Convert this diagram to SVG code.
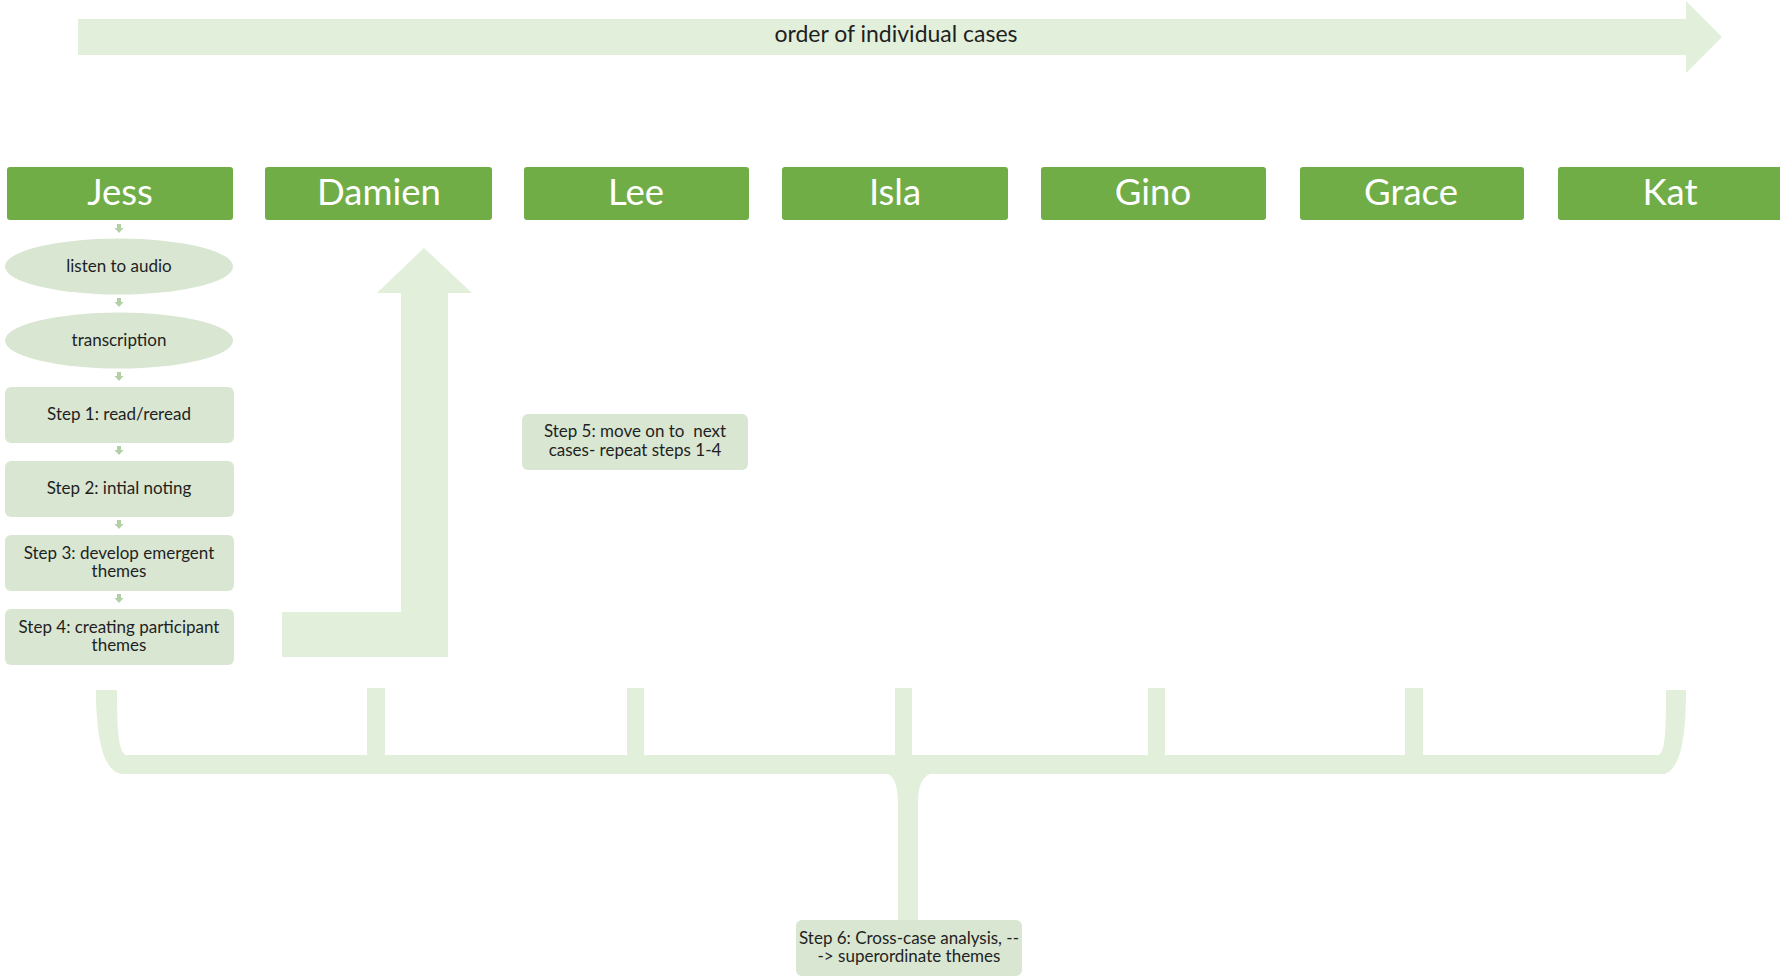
<svg xmlns="http://www.w3.org/2000/svg" width="1780" height="976" viewBox="0 0 1780 976">
  <style>
    .name rect { fill: #70ad47; }
    .name text { font-family: Lato, "Noto Sans", "Liberation Sans", sans-serif; font-size: 36.5px; fill: #ffffff; text-anchor: middle; }
    .step rect, .step ellipse { fill: #d9e6d2; }
    .step text { font-family: Lato, "Noto Sans", "Liberation Sans", sans-serif; font-size: 17px; fill: #1f1f1f; text-anchor: middle; }
    .band { fill: #e2efda; }
    .tiny { fill: #b3cfa4; }
    .title { font-family: Lato, "Noto Sans", "Liberation Sans", sans-serif; font-size: 23px; fill: #1f1f1f; text-anchor: middle; }
  </style>
  <defs>
    <!-- small downward arrow between the stacked steps -->
    <path id="down" d="M -2 0 L 2 0 L 2 4 L 4.5 4 L 0 9 L -4.5 4 L -2 4 Z"/>
  </defs>
  <rect width="1780" height="976" fill="#ffffff"/>

  <!-- timeline arrow across the top -->
  <g id="timeline">
    <path class="band" d="M 78 19 L 1686 19 L 1686 1 L 1722 37 L 1686 73 L 1686 55 L 78 55 Z"/>
    <text class="title" x="896" y="42">order of individual cases</text>
  </g>

  <!-- connectors -->
  <g id="connectors">
    <!-- L-shaped return arrow from step 4 up to the next case -->
    <path class="band" d="M 282 612 L 401 612 L 401 293 L 377 293 L 424 248 L 472 293 L 448 293 L 448 657 L 282 657 Z"/>
    <!-- stems from each case into the brace -->
    <rect class="band" x="367" y="688" width="18" height="68"/>
    <rect class="band" x="627" y="688" width="17" height="68"/>
    <rect class="band" x="895" y="688" width="17" height="68"/>
    <rect class="band" x="1148" y="688" width="17" height="68"/>
    <rect class="band" x="1405" y="688" width="18" height="68"/>
    <!-- brace gathering all cases into step 6 -->
    <path class="band" d="M 96 690 L 117 690 C 117 735 119 752 126 755 L 1659 755 C 1665 750 1666 735 1666 690 L 1686 690 C 1686 740 1680 770 1664 774 L 930 774 C 920 778 918 790 918 805 L 918 921 L 898 921 L 898 805 C 898 790 896 778 888 774 L 122 774 C 104 772 96 740 96 690 Z"/>
    <!-- small arrows in the Jess column -->
    <use class="tiny" href="#down" x="119" y="224"/>
    <use class="tiny" href="#down" x="119" y="298"/>
    <use class="tiny" href="#down" x="119" y="372"/>
    <use class="tiny" href="#down" x="119" y="446"/>
    <use class="tiny" href="#down" x="119" y="520"/>
    <use class="tiny" href="#down" x="119" y="594"/>
  </g>

  <!-- case headers -->
  <g id="jess" class="name"><rect x="7" y="167" width="226" height="53" rx="3"/><text x="120" y="205">Jess</text></g>
  <g id="damien" class="name"><rect x="265" y="167" width="227" height="53" rx="3"/><text x="379" y="205">Damien</text></g>
  <g id="lee" class="name"><rect x="524" y="167" width="225" height="53" rx="3"/><text x="636" y="205">Lee</text></g>
  <g id="isla" class="name"><rect x="782" y="167" width="226" height="53" rx="3"/><text x="895" y="205">Isla</text></g>
  <g id="gino" class="name"><rect x="1041" y="167" width="225" height="53" rx="3"/><text x="1153" y="205">Gino</text></g>
  <g id="grace" class="name"><rect x="1300" y="167" width="224" height="53" rx="3"/><text x="1411" y="205">Grace</text></g>
  <g id="kat" class="name"><rect x="1558" y="167" width="230" height="53" rx="3"/><text x="1670" y="205">Kat</text></g>

  <!-- per-case steps -->
  <g id="listen" class="step"><ellipse cx="119" cy="266.5" rx="114" ry="28"/><text x="119" y="272">listen to audio</text></g>
  <g id="transcription" class="step"><ellipse cx="119" cy="340.5" rx="114" ry="28"/><text x="119" y="346">transcription</text></g>
  <g id="step1" class="step"><rect x="5" y="387" width="229" height="56" rx="6"/><text x="119" y="420">Step 1: read/reread</text></g>
  <g id="step2" class="step"><rect x="5" y="461" width="229" height="56" rx="6"/><text x="119" y="494">Step 2: intial noting</text></g>
  <g id="step3" class="step"><rect x="5" y="535" width="229" height="56" rx="6"/><text x="119" y="558.5">Step 3: develop emergent</text><text x="119" y="577">themes</text></g>
  <g id="step4" class="step"><rect x="5" y="609" width="229" height="56" rx="6"/><text x="119" y="632.5">Step 4: creating participant</text><text x="119" y="651">themes</text></g>

  <g id="step5" class="step"><rect x="522" y="414" width="226" height="56" rx="6"/><text x="635" y="437" xml:space="preserve">Step 5: move on to  next</text><text x="635" y="455.5">cases- repeat steps 1-4</text></g>

  <g id="step6" class="step"><rect x="796" y="920" width="226" height="56" rx="6"/><text x="909" y="943.5">Step 6: Cross-case analysis, --</text><text x="909" y="962">-&gt; superordinate themes</text></g>
</svg>
